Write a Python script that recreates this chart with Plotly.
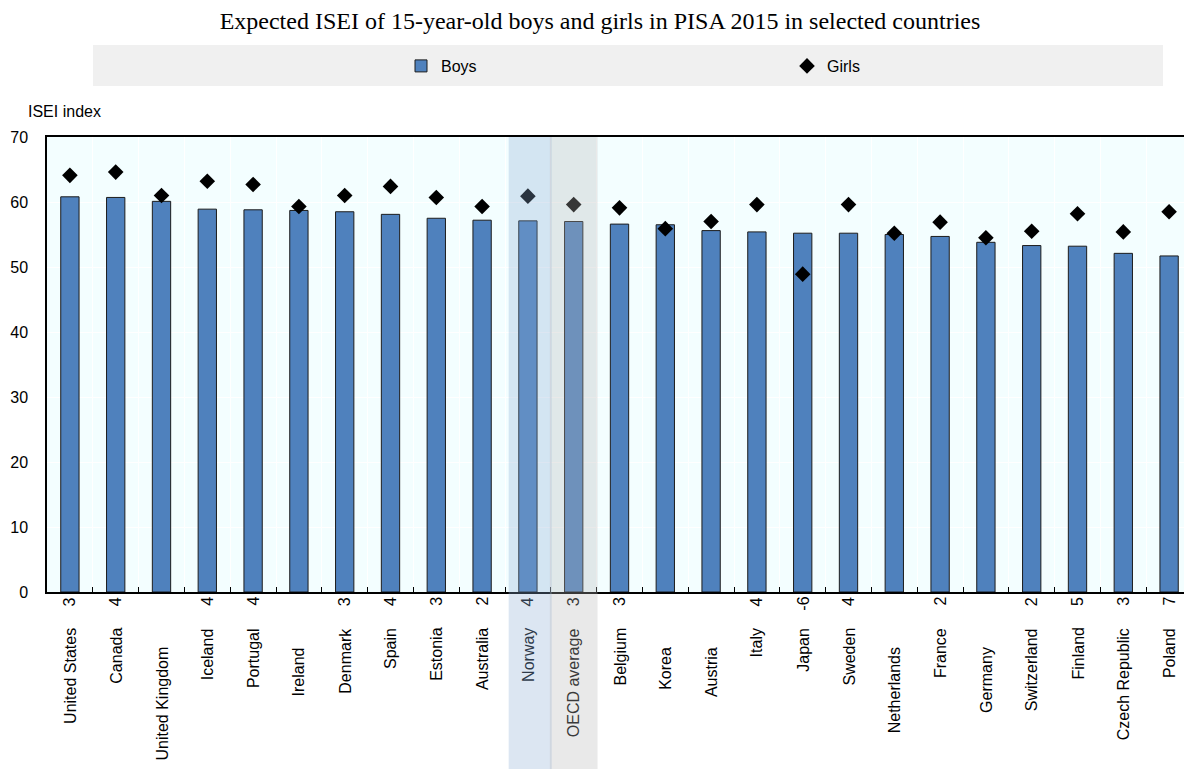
import plotly.graph_objects as go

countries = ["United States", "Canada", "United Kingdom", "Iceland", "Portugal", "Ireland",
             "Denmark", "Spain", "Estonia", "Australia", "Norway", "OECD average", "Belgium",
             "Korea", "Austria", "Italy", "Japan", "Sweden", "Netherlands", "France", "Germany",
             "Switzerland", "Finland", "Czech Republic", "Poland"]
boys = [60.8, 60.7, 60.1, 58.9, 58.8, 58.7, 58.5, 58.1, 57.5, 57.2, 57.1, 57.0, 56.6,
        56.5, 55.6, 55.4, 55.2, 55.2, 55.0, 54.7, 53.8, 53.3, 53.2, 52.1, 51.7]
girls = [64.1, 64.6, 61.0, 63.2, 62.7, 59.3, 61.0, 62.4, 60.7, 59.3, 60.9, 59.6, 59.1,
         55.9, 57.0, 59.6, 48.9, 59.6, 55.2, 56.9, 54.5, 55.5, 58.2, 55.4, 58.5]
gap_labels = ["3", "4", "", "4", "4", "", "3", "4", "3", "2", "4", "3", "3",
              "", "", "4", "-6", "4", "", "2", "", "2", "5", "3", "7"]
y_ticks = [0, 10, 20, 30, 40, 50, 60, 70]

# page body has an 8px margin: figure pixel = reference pixel - 8
OFF = 8
W, H = 1192 - OFF, 769 - OFF
ML, MR = 47 - OFF, 0
MT = 137 - OFF
MB = H - (592 - OFF)
PH = H - MT - MB
PW = W - ML - MR


def py(p):
    """paper y for a reference-pixel y"""
    return (592 - p) / PH


def pxp(p):
    """paper x for a reference-pixel x"""
    return (p - 47) / PW


FONT = "Liberation Sans, Arial, sans-serif"
fig = go.Figure()
fig.add_bar(x=countries, y=boys, name="Boys", width=0.4,
            marker=dict(color="#4f81bd", line=dict(color="#1c1c1c", width=1)))
fig.add_scatter(x=countries, y=girls, mode="markers", name="Girls",
                marker=dict(symbol="diamond", size=12, color="black"))

shapes = [
    dict(type="rect", xref="paper", yref="paper", x0=pxp(93), x1=pxp(1163), y0=py(86), y1=py(45),
         fillcolor="#f0f0f0", line=dict(width=0), layer="below"),
    dict(type="rect", xref="x", yref="paper", x0=9.58, x1=10.52, y0=py(790), y1=1,
         fillcolor="rgba(138,172,212,0.3)", line=dict(width=0), layer="above"),
    dict(type="rect", xref="x", yref="paper", x0=10.48, x1=11.52, y0=py(790), y1=1,
         fillcolor="rgba(182,182,182,0.3)", line=dict(width=0), layer="above"),
]

annotations = [
    dict(text="ISEI index", xref="paper", yref="paper", x=pxp(26), y=py(112),
         xanchor="left", yanchor="middle", showarrow=False, font=dict(size=16, color="black", family=FONT)),
]
for i, (c, g) in enumerate(zip(countries, gap_labels)):
    col = "black"
    if c == "Norway":
        col = "#2e3a4a"
    elif c == "OECD average":
        col = "#3a3a3a"
    if g:
        annotations.append(dict(text=g, xref="x", yref="paper", x=c, y=0, yshift=-3,
                                xanchor="center", yanchor="top", textangle=-90, showarrow=False,
                                font=dict(size=16, color=col, family=FONT)))
        top = 626
    else:
        top = 645
    annotations.append(dict(text=c, xref="x", yref="paper", x=c, y=py(top),
                            xanchor="center", yanchor="top", textangle=-90, showarrow=False,
                            font=dict(size=16, color=col, family=FONT)))

fig.update_layout(
    width=W, height=H,
    margin=dict(l=ML, r=MR, t=MT, b=MB, autoexpand=False),
    paper_bgcolor="white", plot_bgcolor="#f3feff",
    font=dict(family=FONT, size=16, color="black"),
    title=dict(text="Expected ISEI of 15-year-old boys and girls in PISA 2015 in selected countries",
               font=dict(family="Liberation Serif, Times New Roman, serif", size=24, color="black"),
               x=0.5, xref="container", xanchor="center", y=1 - (21 - OFF) / H, yref="container",
               yanchor="middle"),
    showlegend=True,
    legend=dict(orientation="h", x=pxp(401), y=py(66), xanchor="left", yanchor="middle",
                bgcolor="rgba(0,0,0,0)", entrywidth=341, entrywidthmode="pixels",
                font=dict(size=16, family=FONT, color="black"), itemclick=False),
    xaxis=dict(type="category", range=[-0.5, len(countries) - 0.5], showticklabels=False,
               tickson="boundaries", ticks="inside", ticklen=5, tickcolor="black",
               showgrid=True, gridcolor="white", gridwidth=1,
               showline=True, linecolor="black", linewidth=1.5, mirror=True, fixedrange=True),
    yaxis=dict(range=[0, 70], tickvals=y_ticks, showgrid=True, gridcolor="white", gridwidth=1,
               zeroline=False, showline=True, linecolor="black", linewidth=1.5,
               ticks="", ticklabelstandoff=14, tickfont=dict(size=16, family=FONT, color="black")),
    shapes=shapes,
    annotations=annotations,
    bargap=0.6,
)

fig.write_html("out.html")
